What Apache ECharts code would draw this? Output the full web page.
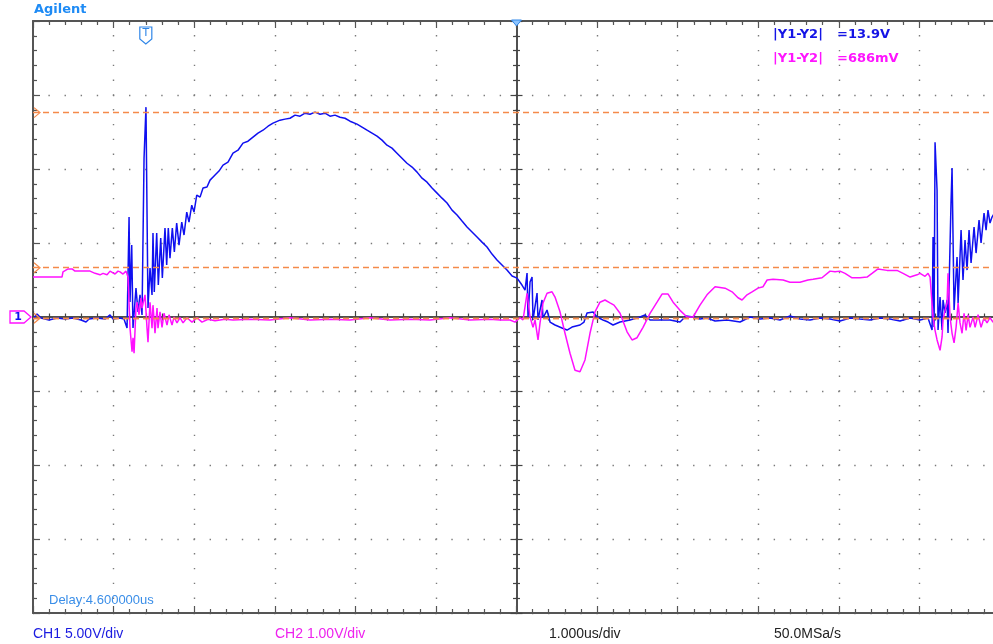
<!DOCTYPE html>
<html>
<head>
<meta charset="utf-8">
<script src="https://cdn.jsdelivr.net/npm/echarts@6/dist/echarts.min.js"></script>
<style>
  html, body { margin: 0; padding: 0; background: #fff; }
  #scope { width: 993px; height: 644px; }
</style>
</head>
<body>
<div id="scope"></div>
<script>
// ---- Acquisition settings ----
const timePerDiv = 1.0;      // us / div
const delay = 4.6;           // us at screen centre
const ch1Scale = 5.0;        // V / div
const ch2Scale = 1.0;        // V / div
const sampleRate = '50.0MSa/s';
const hDivs = 12;            // horizontal divisions across the graticule
const vDivs = 8;             // vertical divisions

// ---- Cursor positions (Y1, Y2) ----
const ch1Cursors = [13.81, -0.09];   // V
const ch2Cursors = [0.666, -0.02];   // V

// ---- CH1 trace: [time us, volts] ----
const ch1Pre = [
  [-1.400,-0.14],[-1.350,0.20],[-1.301,-0.07],[-1.201,-0.20],[-1.102,-0.07],[-1.003,-0.14],
  [-0.903,-0.07],[-0.804,-0.20],[-0.742,-0.34],[-0.705,-0.14],[-0.606,-0.07],[-0.506,-0.14],
  [-0.444,0.14],[-0.407,-0.14],[-0.320,-0.07],[-0.271,-0.14]
];
const ch1Ring = [
  [-0.233,-0.74],[-0.208,6.75],[-0.196,1.01],[-0.175,4.86],[-0.159,-0.74],[-0.122,1.96],
  [-0.097,0.34],[-0.072,1.49],[-0.047,0.14],[-0.022,10.73],[0.002,14.18],[0.015,7.02],
  [0.027,0.61],[0.052,3.31],[0.077,1.49],[0.089,5.67],[0.105,1.69],[0.135,5.67],
  [0.155,2.16],[0.185,5.33],[0.205,2.63],[0.238,6.01],[0.259,3.51],[0.279,6.01],
  [0.300,3.98],[0.329,6.01],[0.354,4.39],[0.383,6.35],[0.412,4.86],[0.446,6.41],
  [0.474,5.54],[0.508,7.09],[0.536,6.41],[0.570,7.56],[0.598,7.09],[0.632,8.24],[0.673,8.10]
];
const ch1Arch = [
  [0.710,8.71],[0.759,8.78],[0.797,9.25],[0.859,9.59],[0.908,9.86],[0.958,10.26],
  [1.020,10.46],[1.082,11.07],[1.144,11.27],[1.206,11.75],[1.268,11.88],[1.330,12.15],
  [1.392,12.42],[1.454,12.62],[1.517,12.89],[1.579,13.10],[1.665,13.30],[1.727,13.37],
  [1.789,13.43],[1.852,13.64],[1.914,13.57],[1.976,13.77],[2.038,13.70],[2.100,13.84],
  [2.162,13.70],[2.224,13.77],[2.286,13.57],[2.348,13.64],[2.410,13.50],[2.472,13.43],
  [2.534,13.23],[2.621,13.03],[2.683,12.83],[2.745,12.62],[2.807,12.42],[2.869,12.22],
  [2.931,11.95],[2.993,11.61],[3.055,11.41],[3.117,11.07],[3.179,10.73],[3.241,10.39],
  [3.304,10.13],[3.366,9.79],[3.428,9.38],[3.490,9.11],[3.552,8.71],[3.614,8.37],
  [3.676,8.03],[3.738,7.70],[3.800,7.22],[3.862,6.89],[3.924,6.48],[3.986,6.08],
  [4.048,5.74],[4.110,5.40],[4.172,5.06],[4.234,4.73],[4.296,4.25],[4.358,3.85],
  [4.420,3.51],[4.482,3.17],[4.545,2.77],[4.607,2.63],[4.668,2.16],[4.706,1.82]
];
const ch1Post = [
  [4.731,2.97],[4.743,0.00],[4.768,2.36],[4.793,2.70],[4.805,-0.20],[4.855,1.62],
  [4.867,-0.20],[4.917,1.15],[4.929,-0.07],[4.979,0.47],[5.016,-0.34],[5.078,-0.54],
  [5.165,-0.74],[5.227,-0.88],[5.289,-0.68],[5.388,-0.54],[5.438,-0.34],[5.475,0.27],
  [5.550,0.34],[5.600,0.00],[5.674,-0.20],[5.736,-0.34],[5.798,-0.54],[5.885,-0.34],
  [6.009,-0.20],[6.133,0.00],[6.195,0.14],[6.257,-0.20],[6.381,-0.20],[6.505,-0.20],
  [6.629,-0.34],[6.704,0.07],[6.791,0.00],[6.877,-0.14],[6.964,-0.07],[7.064,-0.27],
  [7.213,-0.20],[7.374,-0.34],[7.498,0.00],[7.622,-0.14],[7.746,-0.07],[7.870,-0.20],
  [7.994,0.07],[8.118,-0.14],[8.242,-0.20],[8.367,-0.07],[8.491,-0.14],[8.615,-0.27],
  [8.739,-0.07],[8.863,-0.14],[8.987,-0.20],[9.111,-0.07],[9.235,-0.14],[9.359,-0.27],
  [9.484,-0.07],[9.608,-0.20],[9.707,-0.07]
];
const ch1Next = [
  [9.757,-0.88],[9.769,5.40],[9.782,-0.68],[9.794,11.81],[9.819,8.57],[9.831,-0.88],
  [9.856,1.35],[9.881,-0.88],[9.893,1.15],[9.918,0.27],[9.943,1.15],[9.955,-1.08],
  [9.992,7.70],[10.005,10.06],[10.030,0.47],[10.067,4.05],[10.080,0.95],[10.117,5.87],
  [10.141,2.50],[10.166,5.20],[10.191,3.17],[10.216,5.87],[10.241,3.65],[10.278,6.08],
  [10.303,4.32],[10.340,6.55],[10.365,5.00],[10.402,7.02],[10.427,5.87],[10.451,7.22],
  [10.476,6.35],[10.501,6.75],[10.538,7.09]
];

// ---- CH2 trace: [time us, volts] ----
const ch2Pre = [
  [-1.400,0.54],[-1.251,0.54],[-1.040,0.54],[-1.028,0.61],[-0.965,0.65],[-0.915,0.65],
  [-0.879,0.62],[-0.792,0.62],[-0.692,0.62],[-0.630,0.59],[-0.568,0.57],[-0.531,0.59],
  [-0.481,0.57],[-0.444,0.62],[-0.420,0.61],[-0.382,0.58],[-0.345,0.62],[-0.320,0.61],
  [-0.283,0.58],[-0.246,0.62],[-0.221,0.54]
];
const ch2Ring = [
  [-0.196,-0.15],[-0.171,-0.47],[-0.159,-0.28],[-0.146,-0.49],[-0.122,0.12],[-0.109,0.20],
  [-0.084,0.03],[-0.060,0.26],[-0.047,0.12],[-0.010,0.30],[0.015,-0.15],[0.027,-0.34],
  [0.052,0.20],[0.077,-0.15],[0.089,0.16],[0.114,-0.22],[0.139,0.12],[0.151,-0.15],
  [0.176,0.07],[0.201,-0.14],[0.226,0.05],[0.263,-0.11],[0.288,0.03],[0.325,-0.11],
  [0.350,0.00],[0.387,-0.08],[0.424,-0.01],[0.462,-0.08],[0.511,-0.01],[0.573,-0.07],
  [0.635,-0.01],[0.697,-0.07],[0.772,-0.03],[0.859,-0.05],[0.983,-0.03],[1.082,-0.04]
];
const ch2Flat = [
  [1.293,-0.03],[1.541,-0.04],[1.789,-0.01],[2.038,-0.04],[2.286,-0.03],[2.534,-0.04],
  [2.782,-0.01],[3.030,-0.04],[3.279,-0.03],[3.527,-0.04],[3.775,-0.01],[4.023,-0.04],
  [4.271,-0.03],[4.396,-0.04],[4.520,-0.04],[4.582,-0.07],[4.644,-0.01],[4.681,-0.04]
];
const ch2Post = [
  [4.731,0.32],[4.768,0.00],[4.805,-0.14],[4.830,-0.04],[4.867,-0.31],[4.892,-0.08],
  [4.929,0.19],[4.979,0.32],[5.041,0.34],[5.078,0.27],[5.140,0.07],[5.202,-0.22],
  [5.264,-0.49],[5.326,-0.72],[5.388,-0.74],[5.450,-0.58],[5.512,-0.22],[5.574,0.07],
  [5.636,0.20],[5.698,0.23],[5.760,0.19],[5.810,0.16],[5.885,0.05],[5.972,-0.20],
  [6.034,-0.31],[6.096,-0.28],[6.170,-0.14],[6.257,0.05],[6.344,0.20],[6.406,0.31],
  [6.481,0.31],[6.543,0.20],[6.629,0.09],[6.716,0.00],[6.791,0.00],[6.877,0.16],
  [6.964,0.30],[7.064,0.41],[7.188,0.39],[7.275,0.34],[7.349,0.26],[7.399,0.23],
  [7.461,0.30],[7.523,0.34],[7.598,0.39],[7.660,0.41],[7.710,0.50],[7.784,0.51],
  [7.908,0.50],[7.994,0.47],[8.118,0.47],[8.217,0.50],[8.280,0.51],[8.391,0.53],
  [8.491,0.62],[8.553,0.61],[8.615,0.62],[8.677,0.59],[8.764,0.53],[8.863,0.53],
  [8.950,0.54],[9.012,0.59],[9.086,0.65],[9.198,0.63],[9.322,0.63],[9.397,0.59],
  [9.484,0.54],[9.571,0.57],[9.608,0.59],[9.670,0.55],[9.707,0.59],[9.732,0.54]
];
const ch2Next = [
  [9.769,0.00],[9.794,-0.18],[9.819,-0.31],[9.856,-0.45],[9.881,-0.27],[9.893,-0.04],
  [9.918,0.09],[9.943,0.19],[9.955,0.59],[9.980,0.00],[10.005,-0.22],[10.030,-0.35],
  [10.055,-0.14],[10.080,0.19],[10.104,-0.08],[10.129,-0.22],[10.154,0.05],[10.179,-0.18],
  [10.204,0.03],[10.228,-0.14],[10.266,0.00],[10.291,-0.14],[10.328,0.03],[10.365,-0.14],
  [10.402,-0.01],[10.439,-0.08],[10.476,-0.01],[10.513,-0.07],[10.550,-0.03]
];

const ch1Data = [].concat(ch1Pre, ch1Ring, ch1Arch, ch1Post, ch1Next);
const ch2Data = [].concat(ch2Pre, ch2Ring, ch2Flat, ch2Post, ch2Next);

// ---- Screen layout & colours ----
// The graticule is 12 divisions wide, so its right edge sits just past the window.
const GRID = { left: 33, top: 21, width: 967, height: 592 };
const FRAME = '#555555';
const CROSS = '#444444';
const DOT = '#7a7a7a';
const ORANGE = '#f58a4a';
const CH1_COLOR = '#1010f0';
const CH2_COLOR = '#ff10ff';
const minorW = GRID.width / (hDivs * 5);
const minorH = GRID.height / (vDivs * 5);

const divAxis = (n) => ({ type: 'value', min: -n / 2, max: n / 2, interval: 1 });
const noLabel = { show: false };

function centreAxis(n, position, withGrid, dotGap) {
  return Object.assign(divAxis(n), {
    position,
    axisLine: { show: true, onZero: true, onZeroAxisIndex: 0, lineStyle: { color: CROSS, width: 1.5 } },
    axisTick: { show: true, inside: true, length: 6, lineStyle: { color: CROSS, width: 1.2 } },
    minorTick: { show: true, splitNumber: 5, length: 3.5, lineStyle: { color: CROSS, width: 1.2 } },
    axisLabel: noLabel,
    splitLine: withGrid
      ? { show: true, lineStyle: { color: DOT, width: 1.4, type: [1.4, dotGap - 1.4], dashOffset: 0.7 } }
      : { show: false },
    silent: true
  });
}
function frameAxis(n, position) {
  return Object.assign(divAxis(n), {
    position,
    axisLine: { show: true, onZero: false, lineStyle: { color: FRAME, width: 2 } },
    axisTick: { show: true, inside: true, length: 7, lineStyle: { color: FRAME, width: 1.2 } },
    minorTick: { show: true, splitNumber: 5, length: 4, lineStyle: { color: FRAME, width: 1.2 } },
    axisLabel: noLabel,
    splitLine: { show: false },
    silent: true
  });
}

const tMin = delay - hDivs / 2 * timePerDiv;
const tMax = delay + hDivs / 2 * timePerDiv;

const option = {
  animation: false,
  backgroundColor: '#ffffff',
  grid: Object.assign({ show: false, containLabel: false, outerBoundsMode: 'none' }, GRID),
  xAxis: [
    centreAxis(hDivs, 'bottom', true, minorH),   // 0: graticule + centre line
    centreAxis(hDivs, 'top', false, 0),          // 1: centre line, downward ticks
    frameAxis(hDivs, 'bottom'),                  // 2: bottom frame
    frameAxis(hDivs, 'top'),                     // 3: top frame
    { type: 'value', min: tMin, max: tMax, show: false }  // 4: time
  ],
  yAxis: [
    centreAxis(vDivs, 'left', true, minorW),     // 0
    centreAxis(vDivs, 'right', false, 0),        // 1
    frameAxis(vDivs, 'left'),                    // 2
    { type: 'value', min: -vDivs / 2 * ch1Scale, max: vDivs / 2 * ch1Scale, show: false }, // 3: CH1
    { type: 'value', min: -vDivs / 2 * ch2Scale, max: vDivs / 2 * ch2Scale, show: false }  // 4: CH2
  ],
  series: [
    {
      name: 'CH1', type: 'line', xAxisIndex: 4, yAxisIndex: 3, data: ch1Data,
      showSymbol: false, symbol: 'none', silent: true, z: 3,
      lineStyle: { color: CH1_COLOR, width: 1.5 }
    },
    {
      name: 'CH2', type: 'line', xAxisIndex: 4, yAxisIndex: 4, data: ch2Data,
      showSymbol: false, symbol: 'none', silent: true, z: 4,
      lineStyle: { color: CH2_COLOR, width: 1.5 }
    },
    {
      name: 'CH1 cursors', type: 'line', xAxisIndex: 4, yAxisIndex: 3, data: [], z: 6,
      markLine: {
        silent: true, symbol: 'none', label: { show: false },
        lineStyle: { color: ORANGE, type: [6, 4], width: 1.3 },
        data: ch1Cursors.map(v => ({ yAxis: v }))
      }
    },
    {
      name: 'CH2 cursors', type: 'line', xAxisIndex: 4, yAxisIndex: 4, data: [], z: 6,
      markLine: {
        silent: true, symbol: 'none', label: { show: false },
        lineStyle: { color: ORANGE, type: [6, 4], width: 1.3 },
        data: ch2Cursors.map(v => ({ yAxis: v }))
      }
    }
  ]
};

const chart = echarts.init(document.getElementById('scope'), null, { renderer: 'canvas' });
chart.setOption(option);

// ---- Markers and annotations placed through the axes ----
const xT = t => chart.convertToPixel({ xAxisIndex: 4 }, t);
const y1 = v => chart.convertToPixel({ yAxisIndex: 3 }, v);
const y2 = v => chart.convertToPixel({ yAxisIndex: 4 }, v);

const chevron = y => ({
  type: 'polyline', z: 20, silent: true,
  shape: { points: [[GRID.left + 1, y - 5], [GRID.left + 7, y], [GRID.left + 1, y + 5]] },
  style: { stroke: ORANGE, fill: null, lineWidth: 1.2 }
});
const label = (text, x, y, font, fill) => ({
  type: 'text', z: 20, silent: true,
  style: { text, x, y, font, fill, align: 'left', verticalAlign: 'middle' }
});

const gY = y1(0);
const trigX = xT(0);
const delayX = xT(delay);
const d1 = Math.abs(ch1Cursors[0] - ch1Cursors[1]);
const d2 = Math.abs(ch2Cursors[0] - ch2Cursors[1]);
const BOLD = 'bold 13px "DejaVu Sans", sans-serif';
const PLAIN = '14px "Liberation Sans", Arial, sans-serif';

const graphics = [
  chevron(y1(ch1Cursors[0])),
  chevron(y1(ch1Cursors[1])),
  chevron(y2(ch2Cursors[0])),
  // ground reference marker
  {
    type: 'polygon', z: 20, silent: true,
    shape: { points: [[10, gY - 6], [24, gY - 6], [31, gY], [24, gY + 6], [10, gY + 6]] },
    style: { stroke: CH2_COLOR, fill: '#ffffff', lineWidth: 1.3 }
  },
  {
    type: 'text', z: 21, silent: true,
    style: { text: '1', x: 18, y: gY, font: 'bold 11px "DejaVu Sans", sans-serif', fill: CH1_COLOR, align: 'center', verticalAlign: 'middle' }
  },
  // trigger point marker
  {
    type: 'polygon', z: 20, silent: true,
    shape: { points: [[trigX - 6, 27], [trigX + 6, 27], [trigX + 6, 39], [trigX, 44], [trigX - 6, 39]] },
    style: { stroke: '#2f86e8', fill: '#ffffff', lineWidth: 1.2 }
  },
  {
    type: 'text', z: 21, silent: true,
    style: { text: 'T', x: trigX, y: 33.5, font: '11px "DejaVu Sans", sans-serif', fill: '#2f86e8', align: 'center', verticalAlign: 'middle' }
  },
  // delay reference marker
  {
    type: 'polygon', z: 20, silent: true,
    shape: { points: [[delayX - 5, GRID.top - 1], [delayX + 5, GRID.top - 1], [delayX, GRID.top + 5]] },
    style: { stroke: '#2f86e8', fill: '#8cc4ff', lineWidth: 1 }
  },
  label('Agilent', 34, 10, BOLD, '#1e8bf5'),
  label('|Y1-Y2|', 773, 35, BOLD, '#1414e6'),
  label('=' + d1.toFixed(1) + 'V', 837, 35, BOLD, '#1414e6'),
  label('|Y1-Y2|', 773, 59, BOLD, '#ff14ff'),
  label('=' + Math.round(d2 * 1000) + 'mV', 837, 59, BOLD, '#ff14ff'),
  label('Delay:' + delay.toFixed(6) + 'us', 49, 600, '13px "Liberation Sans", Arial, sans-serif', '#3a8ee8'),
  label('CH1 ' + ch1Scale.toFixed(2) + 'V/div', 33, 634, PLAIN, '#1a1ae0'),
  label('CH2 ' + ch2Scale.toFixed(2) + 'V/div', 275, 634, PLAIN, '#ee22ee'),
  label(timePerDiv.toFixed(3) + 'us/div', 549, 634, PLAIN, '#222222'),
  label(sampleRate, 774, 634, PLAIN, '#222222')
];

chart.setOption({ graphic: graphics });
</script>
</body>
</html>
